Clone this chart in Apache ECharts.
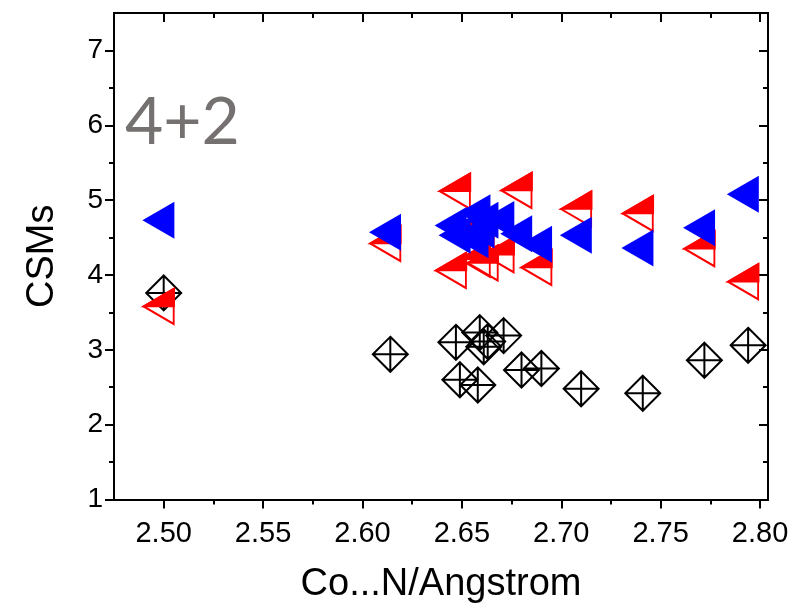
<!DOCTYPE html>
<html>
<head>
<meta charset="utf-8">
<script src="https://cdn.jsdelivr.net/npm/echarts@6.0.0/dist/echarts.min.js"></script>
<style>
  html, body { margin: 0; padding: 0; background: #fff; }
  #chart { width: 792px; height: 609px; }
</style>
</head>
<body>
<div id="chart"></div>
<script>
// Co...N distances (Angstrom), shared by the three CSM series
const distances = [2.500, 2.614, 2.647, 2.649, 2.659, 2.658, 2.661, 2.663, 2.671, 2.680, 2.690, 2.710, 2.741, 2.772, 2.794];
// continuous shape measures per structure
const csmBlack = [3.76, 2.94, 3.10, 2.60, 3.23, 2.53, 3.04, 3.11, 3.19, 2.73, 2.75, 2.48, 2.42, 2.86, 3.06];
const csmRed   = [3.58, 4.42, 4.06, 5.12, 4.21, 4.62, 4.55, 4.16, 4.27, 5.13, 4.10, 4.88, 4.82, 4.35, 3.91];
const csmBlue  = [4.73, 4.57, 4.66, 4.53, 4.83, 4.47, 4.60, 4.73, 4.74, 4.55, 4.41, 4.53, 4.36, 4.63, 5.08];

// axis ticks and labels
const xMajor = [2.50, 2.55, 2.60, 2.65, 2.70, 2.75, 2.80];
const xMinor = [2.525, 2.575, 2.625, 2.675, 2.725, 2.775];
const yMajor = [1, 2, 3, 4, 5, 6, 7];
const yMinor = [1.5, 2.5, 3.5, 4.5, 5.5, 6.5];

const X_MIN = 2.475, X_MAX = 2.804;
const Y_MIN = 1, Y_MAX = 7.5;

const FONT = '"Liberation Sans", Arial, sans-serif';

// symbols: left-pointing triangle, its upper half, and a diamond with a cross
const TRI = 'path://M0,18 L32,0 L32,36 Z';
const TRI_TOP = 'path://M0,18 L32,0 L32,18 Z';
const DIAMOND_CROSS = 'path://M16,0 L32,16 L16,32 L0,16 Z M16,0 L16,32 M0,16 L32,16';

const pts = ys => distances.map((x, i) => [x, ys[i]]);

function axisDef(kind, pos, values, len, inside, extra) {
  const base = {
    type: 'value', position: pos,
    min: kind === 'x' ? X_MIN : Y_MIN,
    max: kind === 'x' ? X_MAX : Y_MAX,
    axisLine: { show: true, onZero: false, lineStyle: { color: '#000', width: 2 } },
    axisTick: { show: true, inside: inside, length: len, customValues: values,
                lineStyle: { color: '#000', width: 2 } },
    axisLabel: { show: false },
    splitLine: { show: false }
  };
  return Object.assign(base, extra || {});
}

const chart = echarts.init(document.getElementById('chart'), null, { renderer: 'canvas' });

chart.setOption({
  animation: false,
  backgroundColor: '#fff',
  grid: { left: 114, right: 24, top: 13, bottom: 109.5, containLabel: false, outerBoundsMode: 'none' },
  xAxis: [
    axisDef('x', 'bottom', xMajor, 9, false, {
      axisLabel: { show: true, customValues: xMajor, formatter: v => v.toFixed(2),
                   fontFamily: FONT, fontSize: 29, color: '#000', margin: 20 },
      name: 'Co...N/Angstrom', nameLocation: 'middle', nameGap: 66,
      nameTextStyle: { fontFamily: FONT, fontSize: 38, color: '#000' }
    }),
    axisDef('x', 'bottom', xMinor, 5, false),
    axisDef('x', 'top', xMajor, 9, true),
    axisDef('x', 'top', xMinor, 5, true)
  ],
  yAxis: [
    axisDef('y', 'left', yMajor, 9, false, {
      axisLabel: { show: true, customValues: yMajor, formatter: v => String(v),
                   fontFamily: FONT, fontSize: 28, color: '#000', margin: 11 },
      name: 'CSMs', nameLocation: 'middle', nameGap: 52,
      nameTextStyle: { fontFamily: FONT, fontSize: 38, color: '#000' }
    }),
    axisDef('y', 'left', yMinor, 5, false),
    axisDef('y', 'right', yMajor, 9, true),
    axisDef('y', 'right', yMinor, 5, true)
  ],
  graphic: [{
    type: 'text', left: 125, top: 90, silent: true,
    style: { text: '4+2', font: '66px Lato, "Open Sans", sans-serif', fill: '#767171' }
  }],
  series: [
    {
      name: 'black', type: 'scatter', xAxisIndex: 0, yAxisIndex: 0,
      data: pts(csmBlack), symbol: DIAMOND_CROSS, symbolSize: [35, 35],
      itemStyle: { color: 'rgba(0,0,0,0)', borderColor: '#000', borderWidth: 2, opacity: 1 },
      silent: true, z: 2
    },
    {
      name: 'red outline', type: 'scatter', xAxisIndex: 0, yAxisIndex: 0,
      data: pts(csmRed), symbol: TRI, symbolSize: [30, 35], symbolOffset: [-5, 0],
      itemStyle: { color: 'rgba(0,0,0,0)', borderColor: '#ff0000', borderWidth: 2, opacity: 1 },
      silent: true, z: 3
    },
    {
      name: 'red fill', type: 'scatter', xAxisIndex: 0, yAxisIndex: 0,
      data: pts(csmRed), symbol: TRI_TOP, symbolSize: [30, 17.5], symbolOffset: [-5, -8.75],
      itemStyle: { color: '#ff0000', borderColor: '#ff0000', borderWidth: 2, opacity: 1 },
      silent: true, z: 3
    },
    {
      name: 'blue', type: 'scatter', xAxisIndex: 0, yAxisIndex: 0,
      data: pts(csmBlue), symbol: TRI, symbolSize: [32, 37], symbolOffset: [-5.3, 0],
      itemStyle: { color: '#0000ff', opacity: 1 },
      silent: true, z: 4
    }
  ]
});
</script>
</body>
</html>
